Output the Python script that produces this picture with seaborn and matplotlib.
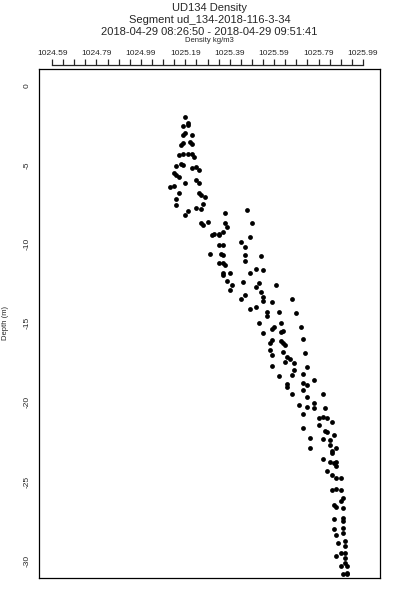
#!/usr/bin/env python3

import matplotlib
matplotlib.use('Agg')
import matplotlib.pyplot as plt     # plotting
import seaborn as sns               # plotting
import pandas as pd                 # data handling

# Density (kg/m3) and depth (m)
density = [
    1025.19, 1025.20, 1025.18, 1025.20, 1025.18, 1025.19, 1025.22, 1025.17, 1025.18, 1025.21,
    1025.22, 1025.16, 1025.18, 1025.20, 1025.22, 1025.23, 1025.15, 1025.17, 1025.18, 1025.22,
    1025.24, 1025.25, 1025.14, 1025.15, 1025.16, 1025.19, 1025.24, 1025.25, 1025.12, 1025.14,
    1025.25, 1025.26, 1025.16, 1025.15, 1025.28, 1025.27, 1025.15, 1025.24, 1025.26, 1025.20,
    1025.19, 1025.37, 1025.47, 1025.26, 1025.27, 1025.29, 1025.37, 1025.38, 1025.49, 1025.32,
    1025.34, 1025.36,
    1025.31, 1025.34, 1025.48, 1025.44, 1025.34, 1025.36, 1025.46, 1025.30, 1025.35, 1025.36,
    1025.46, 1025.53, 1025.46, 1025.34, 1025.36, 1025.37, 1025.36, 1025.36, 1025.39, 1025.48,
    1025.51, 1025.54, 1025.38, 1025.40, 1025.39, 1025.45, 1025.52, 1025.51, 1025.53, 1025.60,
    1025.46, 1025.44, 1025.54, 1025.54, 1025.58, 1025.67, 1025.51, 1025.48, 1025.56, 1025.56,
    1025.61, 1025.69, 1025.52, 1025.62, 1025.58, 1025.59, 1025.71, 1025.54, 1025.62, 1025.63,
    1025.58, 1025.57, 1025.62, 1025.63, 1025.64, 1025.72,
    1025.57, 1025.58, 1025.63, 1025.65, 1025.66, 1025.73, 1025.64, 1025.68, 1025.58, 1025.74,
    1025.68, 1025.67, 1025.72, 1025.61, 1025.77, 1025.72, 1025.74, 1025.65, 1025.65, 1025.72,
    1025.67, 1025.74, 1025.81, 1025.70, 1025.74, 1025.77, 1025.77, 1025.82, 1025.72, 1025.79,
    1025.81, 1025.83, 1025.79, 1025.85, 1025.72, 1025.82, 1025.83, 1025.86, 1025.75, 1025.81,
    1025.84, 1025.84, 1025.75, 1025.85, 1025.87, 1025.85, 1025.81, 1025.84, 1025.86, 1025.87,
    1025.87,
    1025.83, 1025.85, 1025.87, 1025.89, 1025.85, 1025.87, 1025.89, 1025.90, 1025.89, 1025.86,
    1025.87, 1025.90, 1025.86, 1025.90, 1025.90, 1025.86, 1025.90, 1025.90, 1025.87, 1025.88,
    1025.91, 1025.91, 1025.89, 1025.87, 1025.91, 1025.91, 1025.91, 1025.89, 1025.92, 1025.90,
    1025.92, 1025.92,
]
depth = [
    -1.96, -2.34, -2.53, -2.47, -3.10, -2.98, -3.10, -3.73, -3.61, -3.54,
    -3.67, -4.37, -4.30, -4.30, -4.30, -4.49, -5.06, -4.94, -5.00, -5.19,
    -5.13, -5.32, -5.51, -5.63, -5.76, -6.14, -5.95, -6.14, -6.39, -6.33,
    -6.77, -6.90, -6.77, -7.15, -7.03, -7.47, -7.53, -7.72, -7.79, -7.91,
    -8.17, -8.04, -7.85, -8.67, -8.80, -8.61, -8.67, -8.93, -8.67, -9.37,
    -9.37, -9.24,
    -9.43, -9.43, -9.56, -9.87, -10.06, -10.06, -10.19, -10.63, -10.63, -10.70,
    -10.70, -10.76, -11.08, -11.20, -11.20, -11.33, -11.84, -11.96, -11.84, -11.84,
    -11.58, -11.65, -12.34, -12.60, -12.91, -12.41, -12.47, -12.72, -13.04, -12.60,
    -13.23, -13.48, -13.36, -13.61, -13.67, -13.48, -13.99, -14.12, -14.31, -14.56,
    -14.31, -14.37, -15.00, -15.00, -15.38, -15.26, -15.26, -15.64, -15.57, -15.51,
    -16.08, -16.27, -16.14, -16.27, -16.39, -16.01,
    -16.71, -17.03, -16.84, -17.15, -17.28, -16.90, -17.47, -17.53, -17.72, -17.79,
    -17.98, -18.29, -18.23, -18.36, -18.61, -18.80, -18.93, -18.86, -19.05, -19.24,
    -19.50, -19.69, -19.50, -20.19, -20.32, -20.07, -20.38, -20.38, -20.76, -21.02,
    -20.95, -21.02, -21.40, -21.27, -21.65, -21.78, -21.90, -22.09, -22.28, -22.34,
    -22.41, -22.72, -22.91, -23.10, -22.91, -23.23, -23.61, -23.74, -23.86, -23.80,
    -24.05,
    -24.31, -24.62, -24.75, -24.81, -25.57, -25.45, -25.57, -26.02, -26.21, -26.46,
    -26.59, -26.65, -27.35, -27.28, -27.47, -27.98, -27.92, -28.23, -28.36, -28.86,
    -28.74, -29.05, -29.50, -29.69, -29.50, -29.81, -30.13, -30.32, -30.32, -30.83,
    -30.83, -30.76,
]

title_lines = ['UD134 Density',
               'Segment ud_134-2018-116-3-34',
               '2018-04-29 08:26:50 - 2018-04-29 09:51:41']
x_title = 'Density kg/m3'
y_title = 'Depth (m)'
y_ticks = [0, -5, -10, -15, -20, -25, -30]
x_ticks = [1024.59, 1024.79, 1024.99, 1025.19, 1025.39, 1025.59, 1025.79, 1025.99]


def plot_profile():
    sns.set_style('white')
    plt.rcParams['font.family'] = ['Liberation Sans', 'DejaVu Sans']

    df = pd.DataFrame({'density': density, 'depth': depth})

    fig = plt.figure(figsize=(4, 6), dpi=100)
    ax = fig.add_axes([0.0975, 0.0367, 0.8525, 0.8483])

    sns.scatterplot(data=df, x='density', y='depth', ax=ax, color='black',
                    marker='o', s=12, linewidth=0, legend=False)

    ax.set_xlim(1024.531, 1026.067)
    ax.set_ylim(-31.1, 1.07)

    # box around the plot
    for side in ['top', 'bottom', 'left', 'right']:
        ax.spines[side].set_visible(True)
        ax.spines[side].set_color('black')
        ax.spines[side].set_linewidth(0.9)

    # no ticks on the bottom, y labels only on the left
    ax.set_xticks([])
    ax.set_xlabel('')
    ax.set_yticks(y_ticks)
    ax.set_yticklabels([str(t) for t in y_ticks], rotation=90, va='center', fontsize=6)
    ax.tick_params(axis='y', left=False, length=0, pad=6)
    ax.set_ylabel(y_title, fontsize=5.5)
    ax.yaxis.set_label_coords(-0.088, 0.5)

    # density axis above the box, R style
    sec = ax.secondary_xaxis(1.0 + 4 / 509)
    sec.set_xticks(x_ticks)
    sec.set_xticklabels(['%.2f' % t for t in x_ticks], fontsize=6)
    sec.set_xticks([x_ticks[0] + 0.05 * i for i in range(29)], minor=True)
    sec.tick_params(which='both', direction='out', length=4, width=0.9, pad=2)
    sec.spines['top'].set_bounds(x_ticks[0], x_ticks[-1])
    sec.spines['top'].set_linewidth(0.9)

    for i, line in enumerate(title_lines):
        fig.text(0.524, 0.986 - 0.02 * i, line, ha='center', va='center', fontsize=8)
    fig.text(0.524, 0.932, x_title, ha='center', va='center', fontsize=5.5)

    plt.savefig('out.png', dpi=100)


if __name__ == '__main__':
    plot_profile()
